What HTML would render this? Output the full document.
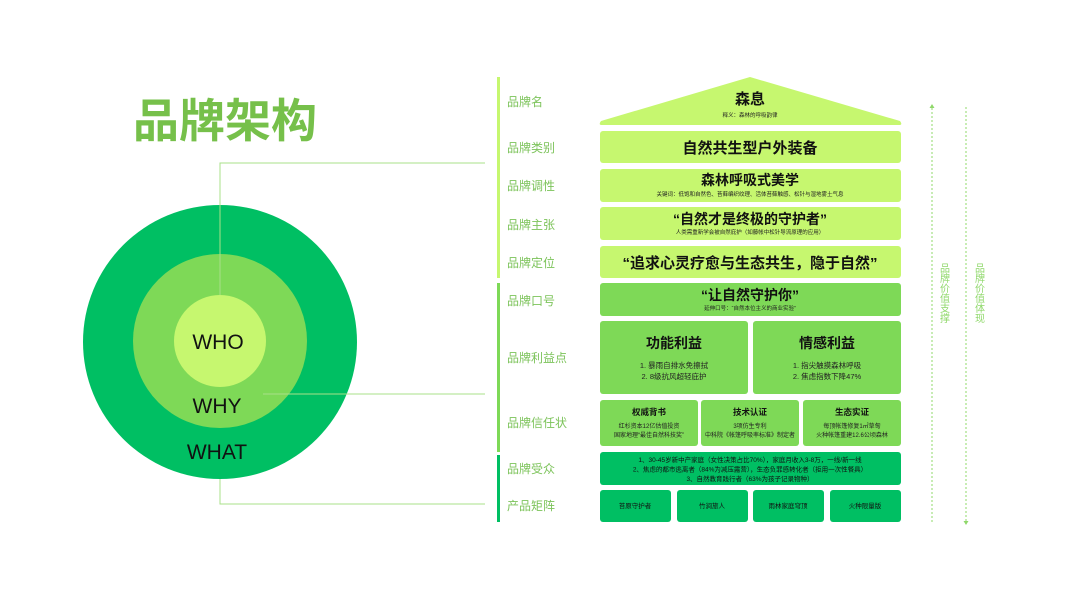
<!DOCTYPE html>
<html><head><meta charset="utf-8"><style>
html,body{margin:0;padding:0;background:#fff;}
svg{display:block;}
text{font-family:"Liberation Sans","Noto Sans CJK SC",sans-serif;}
</style></head><body>
<svg width="1067" height="600" viewBox="0 0 1067 600" xmlns="http://www.w3.org/2000/svg">
<rect width="1067" height="600" fill="#fff"/>
<text x="133" y="137" font-size="46" font-weight="bold" fill="#76c04a">品牌架构</text>
<circle cx="220" cy="342" r="137" fill="#00bf63"/>
<circle cx="220" cy="341" r="87" fill="#7ed957"/>
<circle cx="220" cy="341" r="46" fill="#c6f76f"/>
<g stroke="#a8e08a" stroke-width="1" fill="none">
<polyline points="220,295 220,163 485,163"/>
<polyline points="263,394 485,394"/>
<polyline points="220,479 220,504 485,504"/>
</g>
<text x="218" y="349" font-size="21" text-anchor="middle" fill="#111">WHO</text>
<text x="217" y="413" font-size="21" text-anchor="middle" fill="#111">WHY</text>
<text x="217" y="459" font-size="21" text-anchor="middle" fill="#111">WHAT</text>
<rect x="497" y="77" width="3" height="201" fill="#c6f76f"/>
<rect x="497" y="283" width="3" height="169" fill="#7ed957"/>
<rect x="497" y="455" width="3" height="67" fill="#00bf63"/>
<g font-size="12" fill="#7cc35a">
<text x="507" y="106">品牌名</text>
<text x="507" y="152">品牌类别</text>
<text x="507" y="190">品牌调性</text>
<text x="507" y="229">品牌主张</text>
<text x="507" y="267">品牌定位</text>
<text x="507" y="305">品牌口号</text>
<text x="507" y="362">品牌利益点</text>
<text x="507" y="427">品牌信任状</text>
<text x="507" y="473">品牌受众</text>
<text x="507" y="510">产品矩阵</text>
</g>
<path d="M750,77 L900,121 Q903,125 899,125 L602,125 Q598,125 601,121 Z" fill="#c6f76f"/>
<text x="750" y="104" font-size="15" font-weight="bold" text-anchor="middle" fill="#111">森息</text>
<text x="750" y="117" font-size="5.5" text-anchor="middle" fill="#222">释义：森林的呼吸韵律</text>
<g fill="#c6f76f">
<rect x="600" y="131" width="301" height="32" rx="3"/>
<rect x="600" y="169" width="301" height="33" rx="3"/>
<rect x="600" y="207" width="301" height="33" rx="3"/>
<rect x="600" y="246" width="301" height="32" rx="3"/>
</g>
<text x="750" y="153" font-size="15" font-weight="bold" text-anchor="middle" fill="#111">自然共生型户外装备</text>
<text x="750" y="185" font-size="14" font-weight="bold" text-anchor="middle" fill="#111">森林呼吸式美学</text>
<text x="750" y="196" font-size="5.5" text-anchor="middle" fill="#222">关键词：低饱和自然色、苔藓编织纹理、活体苔藓触感、松针与湿地雾土气息</text>
<text x="750" y="224" font-size="14" font-weight="bold" text-anchor="middle" fill="#111">“自然才是终极的守护者”</text>
<text x="750" y="234" font-size="5.5" text-anchor="middle" fill="#222">人类需重新学会被自然庇护（如藤帐中松针导流原理的应用）</text>
<text x="750" y="268" font-size="15" font-weight="bold" text-anchor="middle" fill="#111">“追求心灵疗愈与生态共生，隐于自然”</text>
<g fill="#7ed957">
<rect x="600" y="283" width="301" height="33" rx="3"/>
<rect x="600" y="321" width="148" height="73" rx="3"/>
<rect x="753" y="321" width="148" height="73" rx="3"/>
<rect x="600" y="400" width="98" height="46" rx="3"/>
<rect x="701" y="400" width="98" height="46" rx="3"/>
<rect x="803" y="400" width="98" height="46" rx="3"/>
</g>
<text x="750" y="300" font-size="14" font-weight="bold" text-anchor="middle" fill="#111">“让自然守护你”</text>
<text x="750" y="310" font-size="5.5" text-anchor="middle" fill="#222">延伸口号：“自然本位主义的商业实验”</text>
<text x="674" y="348" font-size="14" font-weight="bold" text-anchor="middle" fill="#111">功能利益</text>
<text x="674" y="368" font-size="7.5" text-anchor="middle" fill="#222">1. 暴雨自排水免擦拭</text>
<text x="674" y="379" font-size="7.5" text-anchor="middle" fill="#222">2. 8级抗风超轻庇护</text>
<text x="827" y="348" font-size="14" font-weight="bold" text-anchor="middle" fill="#111">情感利益</text>
<text x="827" y="368" font-size="7.5" text-anchor="middle" fill="#222">1. 指尖触摸森林呼吸</text>
<text x="827" y="379" font-size="7.5" text-anchor="middle" fill="#222">2. 焦虑指数下降47%</text>
<text x="649" y="415" font-size="8.5" font-weight="bold" text-anchor="middle" fill="#111">权威背书</text>
<text x="649" y="428" font-size="6" text-anchor="middle" fill="#222">红杉资本12亿估值投资</text>
<text x="649" y="437" font-size="6" text-anchor="middle" fill="#222">国家地理“最佳自然科技奖”</text>
<text x="750" y="415" font-size="8.5" font-weight="bold" text-anchor="middle" fill="#111">技术认证</text>
<text x="750" y="428" font-size="6" text-anchor="middle" fill="#222">3项仿生专利</text>
<text x="750" y="437" font-size="6" text-anchor="middle" fill="#222">中科院《帐篷呼吸率标准》制定者</text>
<text x="852" y="415" font-size="8.5" font-weight="bold" text-anchor="middle" fill="#111">生态实证</text>
<text x="852" y="428" font-size="6" text-anchor="middle" fill="#222">每顶帐篷修复1㎡草甸</text>
<text x="852" y="437" font-size="6" text-anchor="middle" fill="#222">火种帐篷重建12.6公顷森林</text>
<g fill="#00bf63">
<rect x="600" y="452" width="301" height="33" rx="3"/>
<rect x="600" y="490" width="71" height="32" rx="3"/>
<rect x="677" y="490" width="71" height="32" rx="3"/>
<rect x="753" y="490" width="71" height="32" rx="3"/>
<rect x="830" y="490" width="71" height="32" rx="3"/>
</g>
<g font-size="6.5" text-anchor="middle" fill="#111">
<text x="750" y="462">1、30-45岁新中产家庭（女性决策占比70%），家庭月收入3-8万，一线/新一线</text>
<text x="750" y="471.5">2、焦虑的都市逃离者（84%为减压露营），生态负罪感转化者（拒用一次性餐具）</text>
<text x="750" y="481">3、自然教育践行者（63%为孩子记录物种）</text>
<text x="635" y="508">苔原守护者</text>
<text x="712" y="508">竹涧旅人</text>
<text x="788" y="508">雨林家庭穹顶</text>
<text x="865" y="508">火种限量版</text>
</g>
<g stroke="#8fd86a" stroke-width="1" stroke-dasharray="2,2" fill="none">
<line x1="932" y1="108" x2="932" y2="523"/>
<line x1="966" y1="107" x2="966" y2="521"/>
</g>
<polygon points="932,104 929.5,108 934.5,108" fill="#8fd86a"/>
<polygon points="966,525 963.5,521 968.5,521" fill="#8fd86a"/>
<g font-size="10" fill="#8fd86a" text-anchor="middle">
<text x="945" y="272">品</text><text x="945" y="282">牌</text><text x="945" y="292">价</text><text x="945" y="302">值</text><text x="945" y="312">支</text><text x="945" y="322">撑</text>
<text x="980" y="272">品</text><text x="980" y="282">牌</text><text x="980" y="292">价</text><text x="980" y="302">值</text><text x="980" y="312">体</text><text x="980" y="322">现</text>
</g>
</svg>
</body></html>
